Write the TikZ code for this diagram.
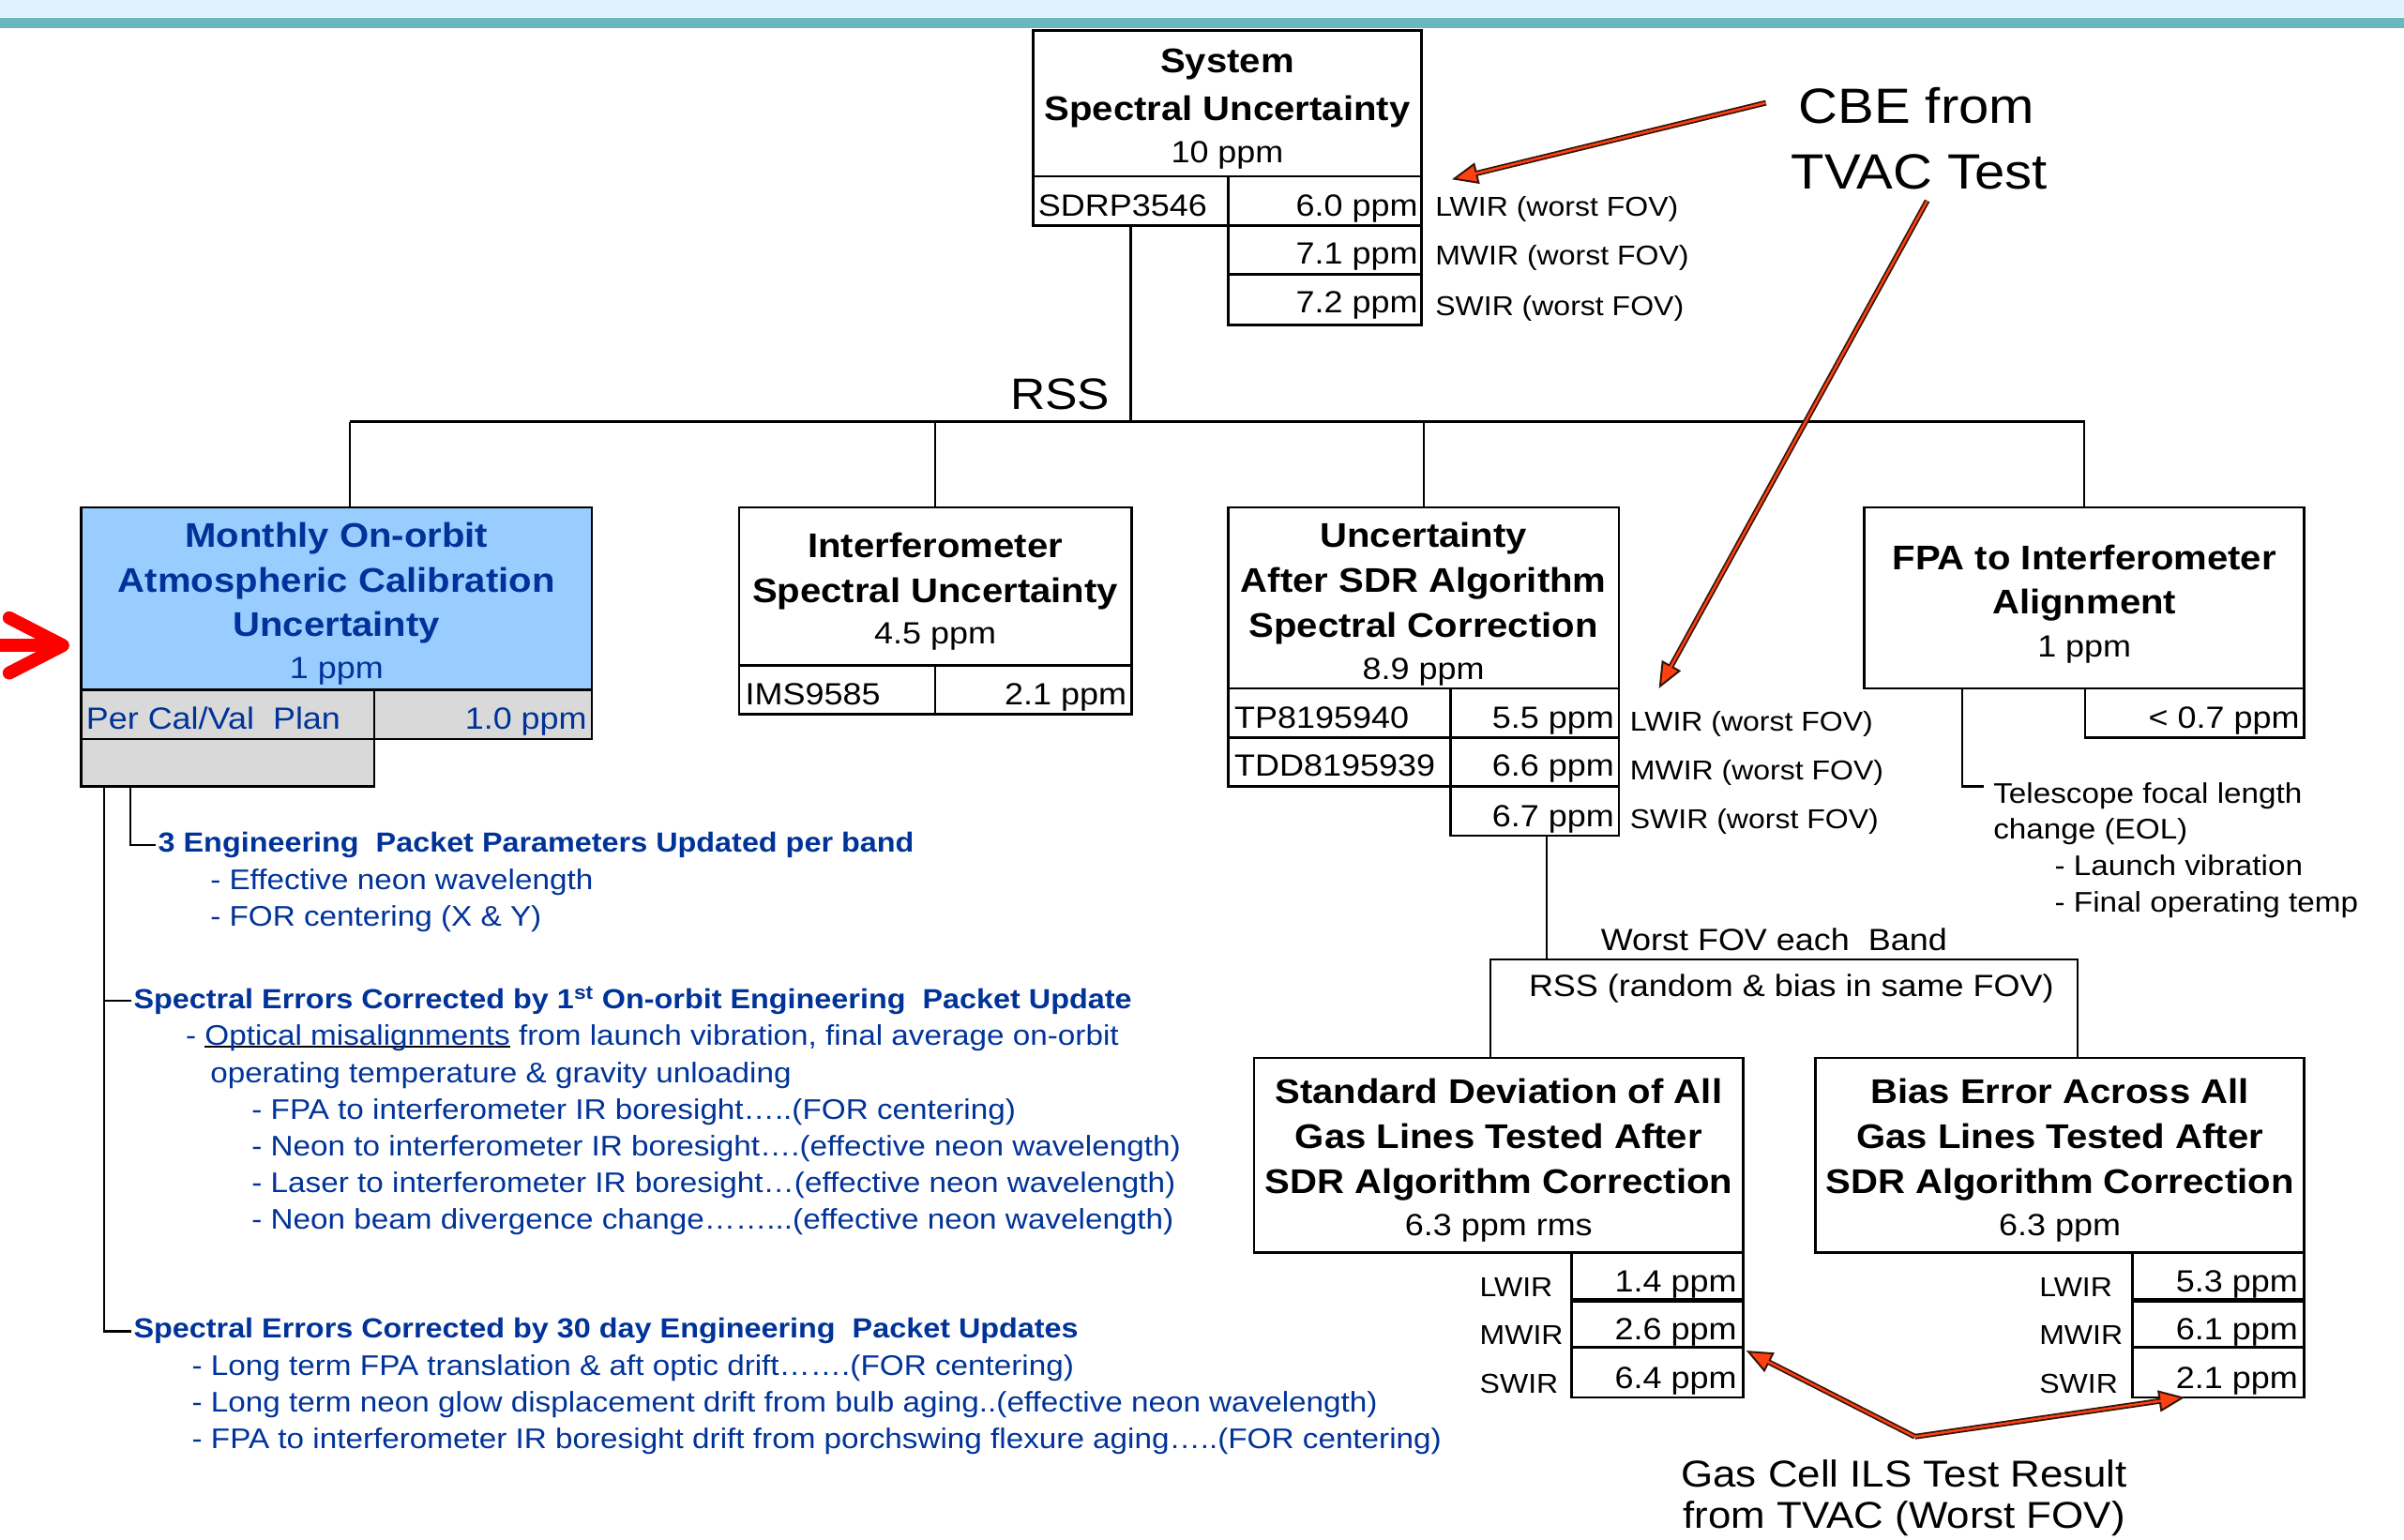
\documentclass[tikz,border=0pt]{standalone}
\usepackage{fontspec}
\setmainfont{Liberation Sans}[FakeStretch=1.1]
\usetikzlibrary{arrows.meta}
\definecolor{tblue}{RGB}{0,51,153}
\definecolor{boxblue}{RGB}{153,204,255}
\definecolor{boxgray}{RGB}{217,217,217}
\definecolor{bandlight}{RGB}{224,242,254}
\definecolor{bandteal}{RGB}{104,184,189}
\definecolor{arrred}{RGB}{255,64,16}
\definecolor{arrdark}{RGB}{50,20,10}
\newsavebox\optbox
\newcommand\fTi{\fontsize{22.3}{27}\selectfont\bfseries}
\newcommand\fVa{\fontsize{20}{24}\selectfont}
\newcommand\fLa{\fontsize{17.8}{22}\selectfont}
\newcommand\fBl{\fontsize{18.5}{24}\selectfont}
\newcommand\fBb{\fontsize{18}{24}\selectfont\bfseries}
\newcommand\fCB{\fontsize{32.3}{40}\selectfont}
\newcommand\fRS{\fontsize{28.7}{34}\selectfont}
\newcommand\fGa{\fontsize{24.4}{30}\selectfont}
\begin{document}
\begin{tikzpicture}[x=1pt,y=-1pt,
  box/.style={draw=black, line width=1.6pt, inner sep=0pt, outer sep=0pt, anchor=north west},
  t/.style={inner sep=0pt, anchor=base},
  tl/.style={inner sep=0pt, anchor=base west},
  tr/.style={inner sep=0pt, anchor=base east},
  conn/.style={draw=black, line width=1.3pt},
  arrow outer/.style={draw=arrdark, line width=3.6pt, -{Triangle[length=17pt,width=14pt,fill=arrred,line width=1.2pt]}},
  arrow inner/.style={draw=arrred, line width=1.5pt, shorten >=15pt},
  bt/.style={tl, text=tblue, font=\fBl},
  bh/.style={tl, text=tblue, font=\fBb, inner sep=1.5pt},
]
\useasboundingbox (0,0) rectangle (1568,1004);
\fill[white] (0,0) rectangle (1568,1004);
% top band
\fill[bandlight] (0,0) rectangle (1568,11);
\fill[bandteal] (0,11.5) rectangle (1568,18.5);

% ---------- System box ----------
\node[box, minimum width=253pt, minimum height=95pt] (sysT) at (674,20) {};
\node[box, minimum width=127pt, minimum height=32pt] (sysA) at (674,115) {};
\node[box, minimum width=126pt, minimum height=32pt] (sysB) at (801,115) {};
\node[box, minimum width=126pt, minimum height=32pt] (sysC) at (801,147) {};
\node[box, minimum width=126pt, minimum height=33pt] (sysD) at (801,179) {};
\node[t, font=\fTi] (sysL1) at (800.5,47.5) {System};
\node[t, font=\fTi] (sysL2) at (800.5,78.5) {Spectral Uncertainty};
\node[t, font=\fVa] (sysL3) at (800.5,106) {10 ppm};
\node[tl, font=\fVa] (sysId) at (677,141) {SDRP3546};
\node[tr, font=\fVa] (sysV1) at (925,141) {6.0 ppm};
\node[tr, font=\fVa] (sysV2) at (925,172.5) {7.1 ppm};
\node[tr, font=\fVa] (sysV3) at (925,204) {7.2 ppm};
\node[tl, font=\fLa] (sysB1) at (936,141) {LWIR (worst FOV)};
\node[tl, font=\fLa] (sysB2) at (936,173) {MWIR (worst FOV)};
\node[tl, font=\fLa] (sysB3) at (936,206) {SWIR (worst FOV)};

% CBE label
\node[t, font=\fCB] (cbe1) at (1250,80.6) {CBE from};
\node[t, font=\fCB] (cbe2) at (1252,123.4) {TVAC Test};

% RSS bus
\node[tr, font=\fRS] (rss) at (724,267) {RSS};
\coordinate (busL) at (228,275);
\coordinate (busR) at (1360,275);

% ---------- Monthly box ----------
\node[box, fill=boxblue, minimum width=333pt, minimum height=119pt] (monT) at (53,331) {};
\node[box, fill=boxgray, minimum width=191pt, minimum height=32pt] (monA) at (53,450) {};
\node[box, fill=boxgray, minimum width=142pt, minimum height=32pt] (monB) at (244,450) {};
\node[box, fill=boxgray, minimum width=191pt, minimum height=31pt] (monC) at (53,482) {};
\node[t, font=\fTi, text=tblue] (monL1) at (219.5,357) {Monthly On-orbit};
\node[t, font=\fTi, text=tblue] (monL2) at (219.5,386.5) {Atmospheric Calibration};
\node[t, font=\fTi, text=tblue] (monL3) at (219.5,415) {Uncertainty};
\node[t, font=\fVa, text=tblue] (monL4) at (219.5,442.5) {1 ppm};
\node[tl, font=\fVa, text=tblue] (monId) at (56,475.5) {Per Cal/Val\ \ Plan};
\node[tr, font=\fVa, text=tblue] (monV) at (383,475.5) {1.0 ppm};

% ---------- Interferometer box ----------
\node[box, minimum width=256pt, minimum height=103pt] (intT) at (482,331) {};
\node[box, minimum width=128pt, minimum height=32pt] (intA) at (482,434) {};
\node[box, minimum width=128pt, minimum height=32pt] (intB) at (610,434) {};
\node[t, font=\fTi] (intL1) at (610,364) {Interferometer};
\node[t, font=\fTi] (intL2) at (610,393) {Spectral Uncertainty};
\node[t, font=\fVa] (intL3) at (610,420) {4.5 ppm};
\node[tl, font=\fVa] (intId) at (486,460) {IMS9585};
\node[tr, font=\fVa] (intV) at (735,460) {2.1 ppm};

% ---------- Uncertainty after SDR box ----------
\node[box, minimum width=255pt, minimum height=118pt] (uncT) at (801,331) {};
\node[box, minimum width=145pt, minimum height=32pt] (uncA) at (801,449) {};
\node[box, minimum width=110pt, minimum height=32pt] (uncB) at (946,449) {};
\node[box, minimum width=145pt, minimum height=32pt] (uncC) at (801,481) {};
\node[box, minimum width=110pt, minimum height=32pt] (uncD) at (946,481) {};
\node[box, minimum width=110pt, minimum height=32pt] (uncE) at (946,513) {};
\node[t, font=\fTi] (uncL1) at (928.5,357) {Uncertainty};
\node[t, font=\fTi] (uncL2) at (928.5,386.5) {After SDR Algorithm};
\node[t, font=\fTi] (uncL3) at (928.5,415.5) {Spectral Correction};
\node[t, font=\fVa] (uncL4) at (928.5,443) {8.9 ppm};
\node[tl, font=\fVa] (uncId1) at (805,475) {TP8195940};
\node[tl, font=\fVa] (uncId2) at (805,506.5) {TDD8195939};
\node[tr, font=\fVa] (uncV1) at (1053,475) {5.5 ppm};
\node[tr, font=\fVa] (uncV2) at (1053,506.5) {6.6 ppm};
\node[tr, font=\fVa] (uncV3) at (1053,539) {6.7 ppm};
\node[tl, font=\fLa] (uncB1) at (1063,477) {LWIR (worst FOV)};
\node[tl, font=\fLa] (uncB2) at (1063,508.5) {MWIR (worst FOV)};
\node[tl, font=\fLa] (uncB3) at (1063,540.5) {SWIR (worst FOV)};

% ---------- FPA box ----------
\node[box, minimum width=287pt, minimum height=118pt] (fpaT) at (1216,331) {};
\node[box, minimum width=143pt, minimum height=32pt] (fpaA) at (1360,449) {};
\node[t, font=\fTi] (fpaL1) at (1359.5,371.5) {FPA to Interferometer};
\node[t, font=\fTi] (fpaL2) at (1359.5,400.7) {Alignment};
\node[t, font=\fVa] (fpaL3) at (1359.5,428.5) {1 ppm};
\node[tr, font=\fVa] (fpaV) at (1500,475) {< 0.7 ppm};
\coordinate (teleHook) at (1294,513);
\node[tl, font=\fBl] (tel1) at (1300,524) {Telescope focal length};
\node[tl, font=\fBl] (tel2) at (1300,547.5) {change (EOL)};
\node[tl, font=\fBl] (tel3) at (1340,571) {- Launch vibration};
\node[tl, font=\fBl] (tel4) at (1340,595) {- Final operating temp};

% ---------- RSS bracket ----------
\coordinate (brL) at (972,626);
\coordinate (brR) at (1355,626);
\node[tl, font=\fVa] (worst) at (1044,620) {Worst FOV each\ \ Band};
\node[tl, font=\fVa] (rssrb) at (997,650) {RSS (random \& bias in same FOV)};

% ---------- Std box ----------
\node[box, minimum width=319pt, minimum height=127pt] (stdT) at (818,690) {};
\node[box, minimum width=112pt, minimum height=31pt] (stdA) at (1025,817) {};
\node[box, minimum width=112pt, minimum height=31pt] (stdB) at (1025,848) {};
\node[box, minimum width=112pt, minimum height=32.5pt] (stdC) at (1025,879) {};
\draw[line width=3pt] (stdA.south west) -- (stdA.south east);
\node[t, font=\fTi] (stdL1) at (977.5,720) {Standard Deviation of All};
\node[t, font=\fTi] (stdL2) at (977.5,749) {Gas Lines Tested After};
\node[t, font=\fTi] (stdL3) at (977.5,778.5) {SDR Algorithm Correction};
\node[t, font=\fVa] (stdL4) at (977.5,806) {6.3 ppm rms};
\node[tr, font=\fVa] (stdV1) at (1133,843) {1.4 ppm};
\node[tr, font=\fVa] (stdV2) at (1133,874) {2.6 ppm};
\node[tr, font=\fVa] (stdV3) at (1133,905.5) {6.4 ppm};
\node[tl, font=\fLa] (stdB1) at (965,846) {LWIR};
\node[tl, font=\fLa] (stdB2) at (965,877) {MWIR};
\node[tl, font=\fLa] (stdB3) at (965,909) {SWIR};

% ---------- Bias box ----------
\node[box, minimum width=319pt, minimum height=127pt] (biaT) at (1184,690) {};
\node[box, minimum width=112pt, minimum height=31pt] (biaA) at (1391,817) {};
\node[box, minimum width=112pt, minimum height=31pt] (biaB) at (1391,848) {};
\node[box, minimum width=112pt, minimum height=32.5pt] (biaC) at (1391,879) {};
\draw[line width=3pt] (biaA.south west) -- (biaA.south east);
\node[t, font=\fTi] (biaL1) at (1343.5,720) {Bias Error Across All};
\node[t, font=\fTi] (biaL2) at (1343.5,749) {Gas Lines Tested After};
\node[t, font=\fTi] (biaL3) at (1343.5,778.5) {SDR Algorithm Correction};
\node[t, font=\fVa] (biaL4) at (1343.5,806) {6.3 ppm};
\node[tr, font=\fVa] (biaV1) at (1499,843) {5.3 ppm};
\node[tr, font=\fVa] (biaV2) at (1499,874) {6.1 ppm};
\node[tr, font=\fVa] (biaV3) at (1499,905.5) {2.1 ppm};
\node[tl, font=\fLa] (biaB1) at (1330,846) {LWIR};
\node[tl, font=\fLa] (biaB2) at (1330,877) {MWIR};
\node[tl, font=\fLa] (biaB3) at (1330,909) {SWIR};

% Gas cell label
\node[t, font=\fGa] (gas1) at (1242,970) {Gas Cell ILS Test Result};
\node[t, font=\fGa] (gas2) at (1242,997) {from TVAC (Worst FOV)};

% ---------- Blue notes ----------
\node[bh] (h3e) at (101.5,556) {3 Engineering\ \ Packet Parameters Updated per band};
\node[bt] (n1) at (137,580) {- Effective neon wavelength};
\node[bt] (n2) at (137,604) {- FOR centering (X \& Y)};
\node[bh] (h1st) at (85.5,658) {Spectral Errors Corrected by 1\textsuperscript{st} On-orbit Engineering\ \ Packet Update};
\node[bt] (n3) at (121,682) {- \sbox\optbox{Optical misalignments}\rlap{\color{black}\rule[-1.2pt]{\wd\optbox}{1.3pt}}\usebox\optbox{} from launch vibration, final average on-orbit};
\node[bt] (n4) at (137,706) {operating temperature \& gravity unloading};
\node[bt] (n5) at (164,730) {- FPA to interferometer IR boresight…..(FOR centering)};
\node[bt] (n6) at (164,754) {- Neon to interferometer IR boresight….(effective neon wavelength)};
\node[bt] (n7) at (164,778) {- Laser to interferometer IR boresight…(effective neon wavelength)};
\node[bt] (n8) at (164,802) {- Neon beam divergence change……...(effective neon wavelength)};
\node[bh] (h30) at (85.5,873) {Spectral Errors Corrected by 30 day Engineering\ \ Packet Updates};
\node[bt] (n9) at (125,897) {- Long term FPA translation \& aft optic drift…….(FOR centering)};
\node[bt] (n10) at (125,921) {- Long term neon glow displacement drift from bulb aging..(effective neon wavelength)};
\node[bt] (n11) at (125,945) {- FPA to interferometer IR boresight drift from porchswing flexure aging…..(FOR centering)};

% ---------- connectors ----------
\draw[conn] (sysA.south) -- (sysA.south |- busL);
\draw[conn] (busL) -- (busR);
\draw[conn] (busL) -- (busL |- monT.north);
\draw[conn] (intT.north) -- (intT.north |- busL);
\draw[conn] (uncT.north) -- (uncT.north |- busL);
\draw[conn] (fpaT.north) -- (fpaT.north |- busL);
\coordinate (lt1) at ([xshift=15pt]monC.south west);
\coordinate (lt2) at ([xshift=32pt]monC.south west);
\draw[conn] (lt1) |- (h30.west);
\draw[conn] (lt1 |- h1st.west) -- (h1st.west);
\draw[conn] (lt2) |- (h3e.west);
\coordinate (fpaDrop) at ([xshift=64pt]fpaT.south west);
\draw[conn] (fpaDrop) |- (teleHook);
\coordinate (uncDrop) at ([xshift=63pt]uncE.south west);
\draw[conn] (uncDrop) -- (uncDrop |- brL);
\draw[conn] (stdT.north -| brL) -- (brL) -- (brR) -- (biaT.north -| brR);

% ---------- red arrows ----------
\coordinate (cbeS1) at ([xshift=-21pt,yshift=2pt]cbe1.west);
\coordinate (cbeTip1) at ([xshift=20pt,yshift=-2pt]sysB.north east);
\draw[arrow outer] (cbeS1) -- (cbeTip1);
\draw[arrow inner] (cbeS1) -- (cbeTip1);
\coordinate (cbeS2) at ([xshift=5pt,yshift=-7pt]cbe2.south);
\coordinate (cbeTip2) at ([xshift=26pt]uncB.north east);
\draw[arrow outer] (cbeS2) -- (cbeTip2);
\draw[arrow inner] (cbeS2) -- (cbeTip2);
\coordinate (gasApex) at ([xshift=7pt,yshift=15pt]gas1.north);
\coordinate (gasTipL) at ([xshift=2pt,yshift=-2pt]stdB.south east);
\coordinate (gasTipR) at ([xshift=34pt]biaC.south west);
\draw[arrow outer] (gasApex) -- (gasTipL);
\draw[arrow outer] (gasApex) -- (gasTipR);
\draw[arrow inner] (gasApex) -- (gasTipL);
\draw[arrow inner] (gasApex) -- (gasTipR);

% big red pointer at left
\draw[red, line width=8.5pt, line cap=round, line join=round] (6,403) -- (41,421) -- (6,439);
\draw[red, line width=8.5pt] (-5,421) -- (38,421);
\end{tikzpicture}
\end{document}
